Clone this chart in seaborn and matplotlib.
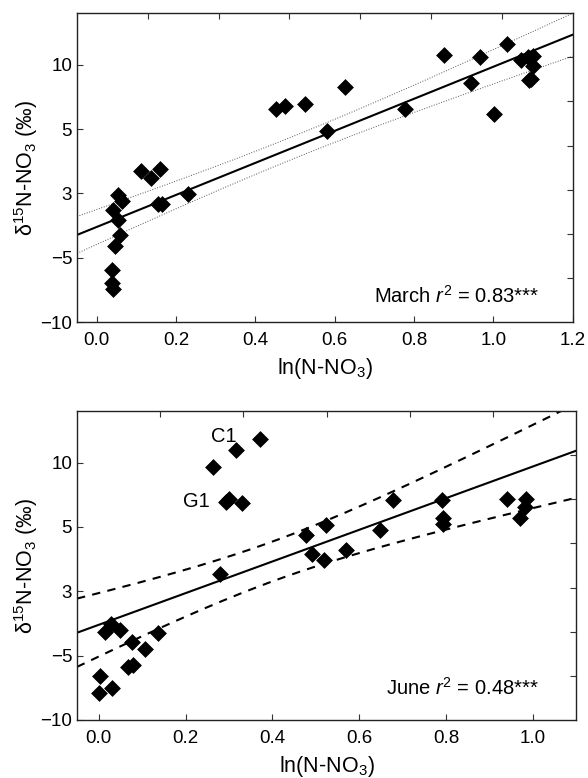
import numpy as np
import pandas as pd
import matplotlib
matplotlib.use("Agg")
import matplotlib.pyplot as plt
import seaborn as sns

# --- data ---
march_x = [0.040, 0.053, 0.064, 0.053, 0.059, 0.047, 0.038, 0.038, 0.040,
           0.112, 0.137, 0.160, 0.154, 0.164, 0.231, 0.453, 0.475, 0.524,
           0.627, 0.580, 0.778, 0.876, 0.966, 0.943, 1.001, 1.035, 1.069,
           1.088, 1.100, 1.100, 1.089, 1.095]
march_y = [-1.31, -0.15, -0.61, -2.09, -3.20, -4.08, -5.97, -6.96, -7.42,
           1.72, 1.20, 1.93, -0.79, -0.79, -0.07, 6.58, 6.82, 6.92,
           8.26, 4.82, 6.53, 10.78, 10.59, 8.57, 6.14, 11.63, 10.39,
           10.59, 10.64, 9.87, 8.78, 8.86]

june_x = [0.003, 0.001, 0.031, 0.014, 0.028, 0.050, 0.077, 0.067, 0.080,
          0.106, 0.136, 0.280, 0.264, 0.316, 0.371, 0.293, 0.300, 0.329,
          0.477, 0.492, 0.524, 0.519, 0.569, 0.647, 0.677, 0.791, 0.793,
          0.793, 0.940, 0.985, 0.982, 0.971]
june_y = [-6.57, -7.92, -7.53, -3.20, -2.52, -3.04, -3.98, -5.89, -5.71,
          -4.49, -3.24, 1.38, 9.69, 10.96, 11.87, 6.93, 7.20, 6.88,
          4.41, 2.93, 5.14, 2.41, 3.19, 4.73, 7.09, 7.09, 5.72,
          5.19, 7.20, 7.14, 6.57, 5.72]

ytick_vals = [-10, -5, 0, 5, 10]
ytick_labels = ["\u221210", "\u22125", "3", "5", "10"]
march_xticks = [0.0, 0.2, 0.4, 0.6, 0.8, 1.0, 1.2]
june_xticks = [0.0, 0.2, 0.4, 0.6, 0.8, 1.0]
point_labels = ["C1", "G1"]
point_label_xy = [(0.288, 12.05), (0.224, 6.99)]

T_CRIT = 2.042  # t(0.975, df=30)

sns.set_style("ticks")
plt.rcParams["font.family"] = ["Liberation Sans", "DejaVu Sans"]
plt.rcParams["mathtext.fontset"] = "custom"
plt.rcParams["mathtext.rm"] = "Liberation Sans"
plt.rcParams["mathtext.it"] = "Liberation Sans:italic"
plt.rcParams["xtick.direction"] = "in"
plt.rcParams["ytick.direction"] = "in"
for k in ["text.color", "axes.labelcolor", "xtick.labelcolor", "ytick.labelcolor"]:
    plt.rcParams[k] = "black"


def fit_with_ci(x, y, grid):
    x = np.asarray(x)
    y = np.asarray(y)
    b, a = np.polyfit(x, y, 1)
    resid = y - (a + b * x)
    s = np.sqrt(np.sum(resid ** 2) / (len(x) - 2))
    sxx = np.sum((x - x.mean()) ** 2)
    yhat = a + b * grid
    half = T_CRIT * s * np.sqrt(1 / len(x) + (grid - x.mean()) ** 2 / sxx)
    return yhat, yhat - half, yhat + half


def draw_panel(ax, xs, ys, xlim, xticks, band_style, n_top, text):
    df = pd.DataFrame({"x": xs, "y": ys})
    grid = np.linspace(xlim[0], xlim[1], 200)
    yhat, lo, hi = fit_with_ci(xs, ys, grid)
    sns.lineplot(x=grid, y=yhat, ax=ax, color="black", lw=1.5)
    sns.lineplot(x=grid, y=lo, ax=ax, **band_style)
    sns.lineplot(x=grid, y=hi, ax=ax, **band_style)
    sns.scatterplot(data=df, x="x", y="y", ax=ax, marker="D", s=65,
                    color="black", edgecolor="black", linewidth=0.5, zorder=5)
    ax.set_xlim(xlim)
    ax.set_ylim(-10, 14)
    ax.set_xticks(xticks)
    ax.set_xticklabels([f"{t:.1f}" for t in xticks])
    ax.set_yticks(ytick_vals)
    ax.set_yticklabels(ytick_labels)
    ax.tick_params(labelsize=13.5, length=4, width=0.8, color="#333333")
    ax.tick_params(axis="x", pad=7)
    ax.set_xlabel("ln(N-NO$_3$)", fontsize=15.5, labelpad=5)
    ax.set_ylabel("\u03b4$^{15}$N-NO$_3$ (\u2030)", fontsize=15.5, labelpad=0)
    for sp in ax.spines.values():
        sp.set_visible(True)
        sp.set_color("#222222")
        sp.set_linewidth(1.0)
    # extra ticks on the right and top edges
    tw = ax.twinx()
    tw.set_ylim(0, 7)
    tw.set_yticks(range(1, 7))
    tw.set_yticklabels([])
    tw.tick_params(direction="in", length=4, color="#333333")
    ty = ax.twiny()
    ty.set_xlim(0, n_top)
    ty.set_xticks(range(1, n_top))
    ty.set_xticklabels([])
    ty.tick_params(direction="in", length=4, color="#333333")
    for t in (tw, ty):
        for sp in t.spines.values():
            sp.set_visible(False)
    ax.text(*text[0], text[1], transform=ax.transAxes, ha="right",
            va="center", fontsize=14.5)


fig = plt.figure(figsize=(5.88, 7.78), dpi=100)
ax1 = fig.add_axes([0.131, 0.586, 0.843, 0.397])
ax2 = fig.add_axes([0.131, 0.0746, 0.849, 0.397])

draw_panel(ax1, march_x, march_y, (-0.05, 1.2), march_xticks,
           dict(color="#555555", lw=0.7, linestyle=":"), 7,
           ((0.933, 0.084), "March $\\it{r}^{2}$ = 0.83***"))
draw_panel(ax2, june_x, june_y, (-0.05, 1.1), june_xticks,
           dict(color="black", lw=1.5, linestyle=(0, (4, 3.5))), 6,
           ((0.924, 0.104), "June $\\it{r}^{2}$ = 0.48***"))

for lab, (lx, ly) in zip(point_labels, point_label_xy):
    ax2.text(lx, ly, lab, ha="center", va="center", fontsize=14.5)

fig.savefig("out.png", dpi=100)
